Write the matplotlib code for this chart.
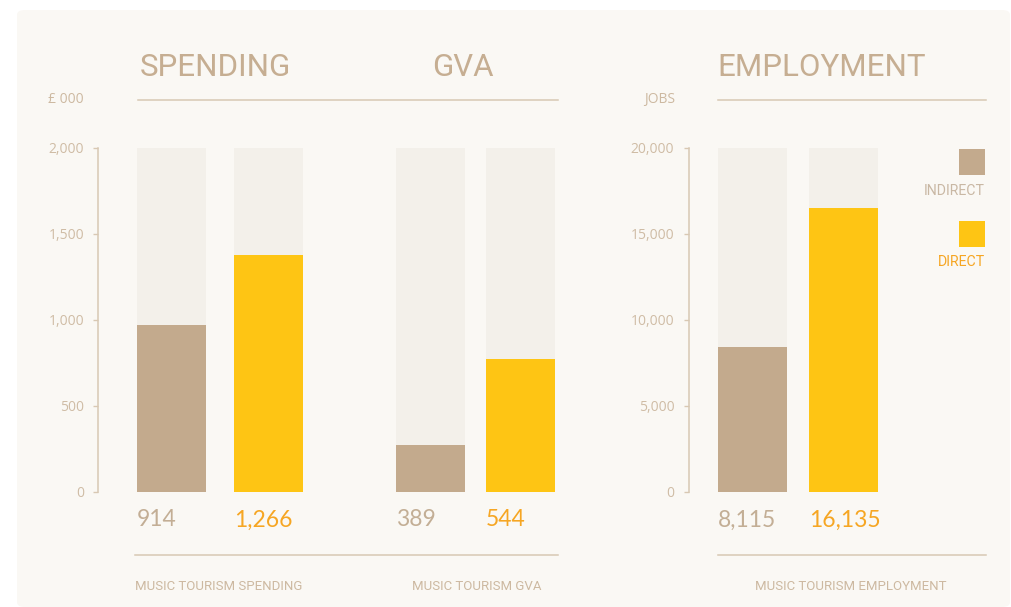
import matplotlib
matplotlib.use("Agg")
import matplotlib.pyplot as plt
from matplotlib.patches import FancyBboxPatch
from matplotlib.lines import Line2D
from matplotlib.transforms import blended_transform_factory

# ------------------------------------------------------------
# data (bar heights as drawn in the picture, labels as printed)
# ------------------------------------------------------------
categories = ["INDIRECT", "DIRECT"]

spending_heights = [969, 1376]
spending_labels = ["914", "1,266"]

gva_heights = [272, 772]
gva_labels = ["389", "544"]

employment_heights = [8430, 16494]
employment_labels = ["8,115", "16,135"]

money_ticks = [0, 500, 1000, 1500, 2000]
jobs_ticks = [0, 5000, 10000, 15000, 20000]

# ------------------------------------------------------------
# styling
# ------------------------------------------------------------
W, H = 1011, 607
BG = "#ffffff"
PANEL = "#faf8f4"
TRACK = "#f3f0ea"
C_INDIRECT = "#c3aa8d"
C_DIRECT = "#fec514"
C_DIRECT_TXT = "#f6a623"
C_HEAD = "#c6ae92"
C_LINE = "#d8c8b3"
C_TICK = "#cfbca5"
C_SMALL = "#cdb9a1"
bar_colors = [C_INDIRECT, C_DIRECT]
label_colors = ["#c3ae95", C_DIRECT_TXT]

FONT = ["Lato", "DejaVu Sans"]
HEAD_FONT = ["Roboto", "DejaVu Sans"]
AXIS_FONT = ["Open Sans", "DejaVu Sans"]
plt.rcParams["font.family"] = FONT


def fx(x):
    return x / W


def fy(y):
    return 1 - y / H


def rect(x0, y0, x1, y1):
    # pixel box (top-left origin) -> figure rect
    return [fx(x0), fy(y1), fx(x1) - fx(x0), fy(y0) - fy(y1)]


fig = plt.figure(figsize=(W / 100, H / 100), dpi=100, facecolor=BG)

panel = FancyBboxPatch((fx(17), 0), fx(1010) - fx(17), fy(10), boxstyle="round,pad=0,rounding_size=0.008",
                       transform=fig.transFigure, facecolor=PANEL, edgecolor="none", zorder=0)
fig.add_artist(panel)

BAR_TOP, BAR_BOT = 147.7, 491.7
BAR_W = 69


def style_axis(ax, ymax, ticks, pad=6.3):
    ax.set_facecolor("none")
    ax.set_ylim(0, ymax)
    for s in ["top", "right", "bottom"]:
        ax.spines[s].set_visible(False)
    ax.spines["left"].set_color(C_LINE)
    ax.spines["left"].set_linewidth(1.1)
    ax.set_xticks([])
    ax.set_yticks(ticks)
    ax.set_yticklabels([f"{t:,}" for t in ticks], family=AXIS_FONT)
    ax.tick_params(axis="y", direction="out", length=3.6, width=1, color=C_LINE,
                   labelcolor=C_TICK, labelsize=10, pad=pad)


def draw_bars(ax, x0, centers, heights, labels, ymax):
    xs = [c - x0 for c in centers]
    ax.bar(xs, [ymax] * len(xs), width=BAR_W, color=TRACK, zorder=1)
    ax.bar(xs, heights, width=BAR_W, color=bar_colors, zorder=2)
    tr = blended_transform_factory(ax.transData, ax.transAxes)
    for x, lab, col in zip(xs, labels, label_colors):
        ax.text(x - BAR_W / 2, -(520 - BAR_BOT) / (BAR_BOT - BAR_TOP), lab, transform=tr,
                ha="left", va="center", fontsize=16.5, color=col)


# left block: spending + GVA share the £000 axis
ax1 = fig.add_axes(rect(97.7, BAR_TOP, 560, BAR_BOT))
ax1.set_xlim(0, 560 - 97.7)
style_axis(ax1, 2000, money_ticks, pad=6.3)
draw_bars(ax1, 97.7, [171.5, 268.5], spending_heights, spending_labels, 2000)
draw_bars(ax1, 97.7, [430.5, 520.5], gva_heights, gva_labels, 2000)

# right block: employment
ax2 = fig.add_axes(rect(689.3, BAR_TOP, 890, BAR_BOT))
ax2.set_xlim(0, 890 - 689.3)
style_axis(ax2, 20000, jobs_ticks, pad=7.2)
draw_bars(ax2, 689.3, [752.5, 843.5], employment_heights, employment_labels, 20000)

# headers
for txt, x, ha in [("SPENDING", 140, "left"), ("GVA", 463, "center"), ("EMPLOYMENT", 717, "left")]:
    fig.text(fx(x), fy(68), txt, ha=ha, va="center", fontsize=22.5, color=C_HEAD, family=HEAD_FONT)

# unit labels
fig.text(fx(84), fy(99.5), "£ 000", ha="right", va="center", fontsize=10, color=C_SMALL, family=AXIS_FONT)
fig.text(fx(675), fy(99.5), "JOBS", ha="right", va="center", fontsize=10, color=C_SMALL, family=AXIS_FONT)

# rules
for x0, x1, y in [(138, 558, 100), (718, 986, 100), (135, 558, 555), (718, 986, 555)]:
    fig.add_artist(Line2D([fx(x0), fx(x1)], [fy(y), fy(y)], transform=fig.transFigure,
                          color=C_LINE, linewidth=1.1))

# bottom captions
for txt, x, ha in [("MUSIC TOURISM SPENDING", 135, "left"), ("MUSIC TOURISM GVA", 412, "left"),
                   ("MUSIC TOURISM EMPLOYMENT", 851, "center")]:
    fig.text(fx(x), fy(586), txt, ha=ha, va="center", fontsize=9.5, color=C_SMALL, family=HEAD_FONT)

# legend
for cat, col, tcol, ytop in [(categories[0], C_INDIRECT, "#c9b8a4", 149), (categories[1], C_DIRECT, C_DIRECT_TXT, 221)]:
    fig.add_artist(plt.Rectangle((fx(959), fy(ytop + 26)), fx(26), 26 / H, transform=fig.transFigure,
                                 facecolor=col, edgecolor="none"))
    fig.text(fx(985), fy(ytop + 41.5), cat, ha="right", va="center", fontsize=10.2, color=tcol,
             family=HEAD_FONT)

fig.savefig("out.png", dpi=100, facecolor=BG)
